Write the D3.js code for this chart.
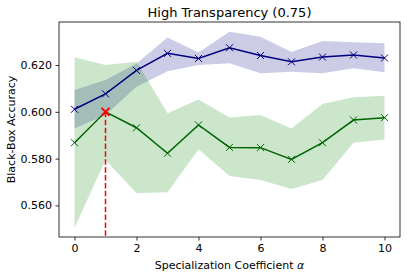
<!DOCTYPE html>
<html>
<head>
<meta charset="utf-8">
<script src="https://cdn.jsdelivr.net/npm/d3@7"></script>
<style>
  body { margin: 0; background: #fff; }
  text { font-family: "DejaVu Sans", sans-serif; fill: #000; }
</style>
</head>
<body>
<div id="chart"></div>
<script>
'use strict';
// data
const alphas = [0, 1, 2, 3, 4, 5, 6, 7, 8, 9, 10];
const blueMean  = [0.6011, 0.6077, 0.6177, 0.6250, 0.6228, 0.6274, 0.6241, 0.6214, 0.6234, 0.6243, 0.6230];
const blueUpper = [0.6093, 0.6136, 0.6207, 0.6318, 0.6254, 0.6342, 0.6321, 0.6256, 0.6303, 0.6297, 0.6293];
const blueLower = [0.5929, 0.5986, 0.6107, 0.6174, 0.6200, 0.6208, 0.6165, 0.6171, 0.6165, 0.6186, 0.6169];
const greenMean  = [0.5868, 0.6000, 0.5932, 0.5823, 0.5944, 0.5848, 0.5847, 0.5797, 0.5868, 0.5965, 0.5975];
const greenUpper = [0.6233, 0.6200, 0.6214, 0.5994, 0.6053, 0.5976, 0.5986, 0.5929, 0.6033, 0.6062, 0.6069];
const greenLower = [0.5505, 0.5794, 0.5652, 0.5656, 0.5840, 0.5726, 0.5709, 0.5670, 0.5709, 0.5868, 0.5882];
const bestAlpha = 1;
const bestAcc = 0.600;
const xTicks = [0, 2, 4, 6, 8, 10];
const yTicks = [0.560, 0.580, 0.600, 0.620];

const W = 407, H = 277;
const margin = {top: 22, right: 7, bottom: 40, left: 59};
const w = W - margin.left - margin.right,
      h = H - margin.top - margin.bottom;

const svg = d3.select('#chart').append('svg')
  .attr('width', W).attr('height', H);

const g = svg.append('g')
  .attr('transform', `translate(${margin.left},${margin.top})`);

const x = d3.scaleLinear().domain([-0.5, 10.5]).range([0, w]);
const y = d3.scaleLinear().domain([0.5465, 0.6384]).range([h, 0]);

function band(lo, hi) {
  return d3.area()
    .x((d, i) => x(alphas[i]))
    .y0((d, i) => y(lo[i]))
    .y1((d, i) => y(hi[i]))(alphas);
}
const line = d3.line().x((d, i) => x(alphas[i])).y(d => y(d));

g.append('path').attr('d', band(blueLower, blueUpper))
  .attr('fill', 'navy').attr('fill-opacity', 0.2);
g.append('path').attr('d', band(greenLower, greenUpper))
  .attr('fill', 'green').attr('fill-opacity', 0.2);

function series(vals, col) {
  g.append('path').attr('d', line(vals))
    .attr('fill', 'none').attr('stroke', col).attr('stroke-width', 1.5);
  g.selectAll(null).data(vals).enter().append('path')
    .attr('transform', (d, i) => `translate(${x(alphas[i])},${y(d)})`)
    .attr('d', 'M-3.5,-3.5L3.5,3.5M-3.5,3.5L3.5,-3.5')
    .attr('stroke', col).attr('stroke-width', 1);
}
series(blueMean, 'navy');
series(greenMean, 'darkgreen');

// best alpha marker
g.append('line')
  .attr('x1', x(bestAlpha)).attr('x2', x(bestAlpha))
  .attr('y1', y(bestAcc)).attr('y2', h)
  .attr('stroke', 'red').attr('stroke-width', 1.5)
  .attr('stroke-dasharray', '5.5,2.4');
g.append('path')
  .attr('transform', `translate(${x(bestAlpha)},${y(bestAcc)})`)
  .attr('d', 'M-4,-4L4,4M-4,4L4,-4')
  .attr('stroke', 'red').attr('stroke-width', 2);

// axes
const xAxis = g.append('g').attr('transform', `translate(0,${h})`)
  .call(d3.axisBottom(x).tickValues(xTicks).tickSize(3.5).tickPadding(3.5));
const yAxis = g.append('g')
  .call(d3.axisLeft(y).tickValues(yTicks).tickFormat(d3.format('.3f')).tickSize(3.5).tickPadding(3.5));
[xAxis, yAxis].forEach(a => {
  a.select('.domain').remove();
  a.selectAll('text').style('font-size', '11px').style('font-family', '"DejaVu Sans", sans-serif');
  a.selectAll('line').attr('stroke', '#000').attr('stroke-width', 0.8);
});

g.append('rect').attr('width', w).attr('height', h)
  .attr('fill', 'none').attr('stroke', '#000').attr('stroke-width', 0.8);

svg.append('text').attr('x', margin.left + w / 2).attr('y', 16.5)
  .attr('text-anchor', 'middle').style('font-size', '13px')
  .text('High Transparency (0.75)');

const xl = svg.append('text').attr('x', margin.left + w / 2).attr('y', 269)
  .attr('text-anchor', 'middle').style('font-size', '11px');
xl.append('tspan').text('Specialization Coefficient ');
xl.append('tspan').style('font-style', 'italic').text('α');

svg.append('text')
  .attr('transform', `translate(15,${margin.top + h / 2}) rotate(-90)`)
  .attr('text-anchor', 'middle').style('font-size', '11px')
  .text('Black-Box Accuracy');
</script>
</body>
</html>
